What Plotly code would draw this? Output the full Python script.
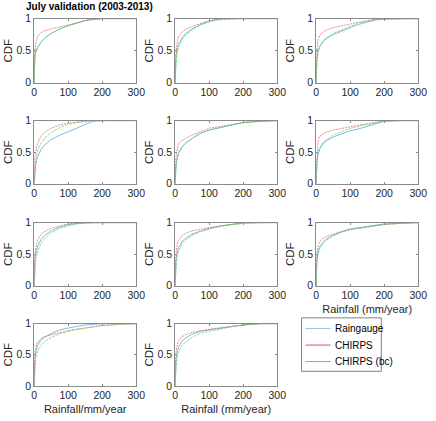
import plotly.graph_objects as go

# Shared rainfall grid (mm/year)
rain = [0, 2, 5, 10, 20, 30, 50, 75, 100, 125, 150, 175, 200, 250, 300]

# CDF values per panel (Raingauge, CHIRPS, CHIRPS (bc))
p1_rg = [0, 0.40, 0.48, 0.55, 0.63, 0.69, 0.77, 0.84, 0.89, 0.93, 0.97, 0.99, 1, 1, 1]
p1_ch = [0, 0.50, 0.62, 0.72, 0.78, 0.81, 0.84, 0.87, 0.89, 0.93, 0.97, 0.99, 1, 1, 1]
p1_bc = [0, 0.38, 0.47, 0.55, 0.63, 0.69, 0.77, 0.84, 0.89, 0.93, 0.97, 0.99, 1, 1, 1]

p2_rg = [0, 0.38, 0.50, 0.60, 0.70, 0.76, 0.84, 0.91, 0.96, 0.99, 1, 1, 1, 1, 1]
p2_ch = [0, 0.45, 0.60, 0.72, 0.79, 0.83, 0.88, 0.93, 0.97, 0.99, 1, 1, 1, 1, 1]
p2_bc = [0, 0.30, 0.45, 0.56, 0.67, 0.74, 0.83, 0.90, 0.95, 0.98, 0.99, 1, 1, 1, 1]

p3_rg = [0, 0.35, 0.47, 0.56, 0.64, 0.69, 0.75, 0.81, 0.86, 0.91, 0.95, 0.98, 0.99, 1, 1]
p3_ch = [0, 0.48, 0.65, 0.74, 0.79, 0.82, 0.86, 0.89, 0.92, 0.95, 0.97, 0.99, 1, 1, 1]
p3_bc = [0, 0.33, 0.46, 0.56, 0.65, 0.70, 0.77, 0.83, 0.88, 0.93, 0.96, 0.99, 1, 1, 1]

p4_rg = [0, 0.20, 0.32, 0.42, 0.54, 0.61, 0.70, 0.77, 0.82, 0.88, 0.94, 0.99, 1, 1, 1]
p4_ch = [0, 0.40, 0.52, 0.64, 0.75, 0.81, 0.88, 0.93, 0.96, 0.98, 0.99, 1, 1, 1, 1]
p4_bc = [0, 0.25, 0.38, 0.52, 0.64, 0.72, 0.81, 0.89, 0.94, 0.97, 0.99, 1, 1, 1, 1]

p5_rg = [0, 0.28, 0.38, 0.48, 0.58, 0.64, 0.72, 0.80, 0.85, 0.88, 0.91, 0.94, 0.97, 0.99, 1]
p5_ch = [0, 0.38, 0.52, 0.64, 0.68, 0.72, 0.77, 0.83, 0.88, 0.90, 0.92, 0.94, 0.97, 0.99, 1]
p5_bc = [0, 0.26, 0.37, 0.48, 0.58, 0.64, 0.72, 0.80, 0.85, 0.88, 0.91, 0.94, 0.97, 0.99, 1]

p6_rg = [0, 0.35, 0.45, 0.55, 0.63, 0.68, 0.74, 0.79, 0.84, 0.87, 0.91, 0.96, 0.99, 1, 1]
p6_ch = [0, 0.45, 0.65, 0.75, 0.79, 0.82, 0.85, 0.88, 0.91, 0.93, 0.95, 0.98, 1, 1, 1]
p6_bc = [0, 0.33, 0.45, 0.56, 0.65, 0.70, 0.77, 0.83, 0.88, 0.91, 0.94, 0.97, 0.99, 1, 1]

p7_rg = [0, 0.40, 0.52, 0.62, 0.73, 0.79, 0.87, 0.93, 0.97, 0.99, 1, 1, 1, 1, 1]
p7_ch = [0, 0.48, 0.60, 0.72, 0.81, 0.86, 0.91, 0.95, 0.98, 0.99, 1, 1, 1, 1, 1]
p7_bc = [0, 0.30, 0.43, 0.55, 0.67, 0.74, 0.84, 0.91, 0.95, 0.98, 0.99, 1, 1, 1, 1]

p8_rg = [0, 0.38, 0.50, 0.60, 0.70, 0.75, 0.82, 0.87, 0.91, 0.94, 0.96, 0.98, 1, 1, 1]
p8_ch = [0, 0.48, 0.63, 0.72, 0.79, 0.83, 0.87, 0.90, 0.92, 0.94, 0.96, 0.98, 0.99, 1, 1]
p8_bc = [0, 0.30, 0.44, 0.55, 0.66, 0.72, 0.80, 0.86, 0.90, 0.93, 0.96, 0.98, 0.99, 1, 1]

p9_rg = [0, 0.40, 0.52, 0.61, 0.69, 0.74, 0.80, 0.86, 0.90, 0.92, 0.94, 0.96, 0.98, 0.99, 1]
p9_ch = [0, 0.50, 0.62, 0.70, 0.75, 0.78, 0.82, 0.86, 0.89, 0.91, 0.93, 0.95, 0.97, 0.99, 1]
p9_bc = [0, 0.35, 0.48, 0.58, 0.67, 0.72, 0.79, 0.85, 0.89, 0.91, 0.93, 0.95, 0.97, 0.99, 1]

p10_rg = [0, 0.40, 0.55, 0.65, 0.74, 0.78, 0.84, 0.90, 0.93, 0.96, 0.98, 0.99, 1, 1, 1]
p10_ch = [0, 0.50, 0.62, 0.70, 0.76, 0.79, 0.82, 0.86, 0.89, 0.91, 0.93, 0.95, 0.97, 0.99, 1]
p10_bc = [0, 0.30, 0.45, 0.56, 0.65, 0.71, 0.78, 0.84, 0.88, 0.91, 0.93, 0.95, 0.97, 0.99, 1]

p11_rg = [0, 0.40, 0.52, 0.62, 0.72, 0.77, 0.83, 0.88, 0.90, 0.92, 0.94, 0.96, 0.98, 1, 1]
p11_ch = [0, 0.50, 0.63, 0.73, 0.79, 0.82, 0.86, 0.89, 0.91, 0.93, 0.95, 0.97, 0.98, 1, 1]
p11_bc = [0, 0.30, 0.43, 0.54, 0.64, 0.70, 0.78, 0.85, 0.88, 0.91, 0.93, 0.96, 0.98, 1, 1]

panels = [
    (p1_rg, p1_ch, p1_bc), (p2_rg, p2_ch, p2_bc), (p3_rg, p3_ch, p3_bc),
    (p4_rg, p4_ch, p4_bc), (p5_rg, p5_ch, p5_bc), (p6_rg, p6_ch, p6_bc),
    (p7_rg, p7_ch, p7_bc), (p8_rg, p8_ch, p8_bc), (p9_rg, p9_ch, p9_bc),
    (p10_rg, p10_ch, p10_bc), (p11_rg, p11_ch, p11_bc),
]
series_names = ["Raingauge", "CHIRPS", "CHIRPS (bc)"]
x_titles = {8: "Rainfall (mm/year)", 9: "Rainfall/mm/year", 10: "Rainfall (mm/year)"}

W, H = 436, 421
col_px = [(32, 137), (177, 282), (322, 427)]
row_px = [(13, 79), (118, 183), (223, 288), (327, 391)]

colors = ["#4f9bd9", "#e8505a", "#5ad65a"]
dashes = ["solid", "2px,1px", "3px,1px"]

fig = go.Figure()
font_family = "Liberation Sans, Arial, sans-serif"
axis_color = "#8a8a8a"
text_color = "#262626"
tick_font = dict(family=font_family, size=10.5, color=text_color)

for i, series in enumerate(panels):
    r, c = divmod(i, 3)
    ax = "" if i == 0 else str(i + 1)
    xd = [col_px[c][0] / W, col_px[c][1] / W]
    yd = [1 - row_px[r][1] / H, 1 - row_px[r][0] / H]
    for k, ys in enumerate(series):
        fig.add_trace(go.Scatter(
            x=rain, y=ys, mode="lines", name=series_names[k], showlegend=False,
            line=dict(color=colors[k], width=0.7, dash=dashes[k]),
            xaxis="x" + ax, yaxis="y" + ax,
        ))
    xa = dict(domain=xd, range=[0, 300], tickvals=[0, 100, 200, 300],
              showgrid=False, zeroline=False, showline=True, linecolor=axis_color,
              linewidth=1, mirror="ticks", ticks="inside", ticklen=2,
              tickcolor=axis_color, tickfont=tick_font, anchor="y" + ax,
              fixedrange=True)
    if i in x_titles:
        xa["title"] = dict(text=x_titles[i], font=dict(family=font_family, size=11, color=text_color), standoff=4)
    ya = dict(domain=yd, range=[0, 1], tickvals=[0, 0.5, 1], ticktext=["0", "0.5", "1"],
              showgrid=False, zeroline=False, showline=True, linecolor=axis_color,
              linewidth=1, mirror="ticks", ticks="inside", ticklen=2,
              tickcolor=axis_color, tickfont=tick_font, anchor="x" + ax,
              title=dict(text="CDF", font=dict(family=font_family, size=11.5, color=text_color), standoff=1),
              fixedrange=True)
    fig.layout["xaxis" + ax] = xa
    fig.layout["yaxis" + ax] = ya

# Title
fig.add_annotation(text="<b>July validation (2003-2013)</b>", xref="paper", yref="paper",
                   x=89 / W, y=1 - 1 / H, xanchor="center", yanchor="middle", showarrow=False,
                   font=dict(family=font_family, size=10, color="#000000"))

# Legend box (drawn manually)
lx0, lx1, ly0, ly1 = 307, 389, 321, 376
fig.add_shape(type="rect", xref="paper", yref="paper",
              x0=lx0 / W, x1=lx1 / W, y0=1 - ly1 / H, y1=1 - ly0 / H,
              line=dict(color="#808080", width=1), fillcolor="white")
leg_rows = [332, 349, 366]
leg_colors = ["#9cc4e4", "#e8505a", "#5ad65a"]
for k, yy in enumerate(leg_rows):
    fig.add_shape(type="line", xref="paper", yref="paper",
                  x0=311 / W, x1=337 / W, y0=1 - yy / H, y1=1 - yy / H,
                  line=dict(color=leg_colors[k], width=1))
    fig.add_annotation(text=series_names[k], xref="paper", yref="paper",
                       x=339 / W, y=1 - yy / H, xanchor="left", yanchor="middle",
                       showarrow=False, font=dict(family=font_family, size=10, color="#000000"))

fig.update_layout(width=W, height=H, margin=dict(l=0, r=0, t=0, b=0),
                  paper_bgcolor="white", plot_bgcolor="white", showlegend=False)

fig.write_html("out.html")
